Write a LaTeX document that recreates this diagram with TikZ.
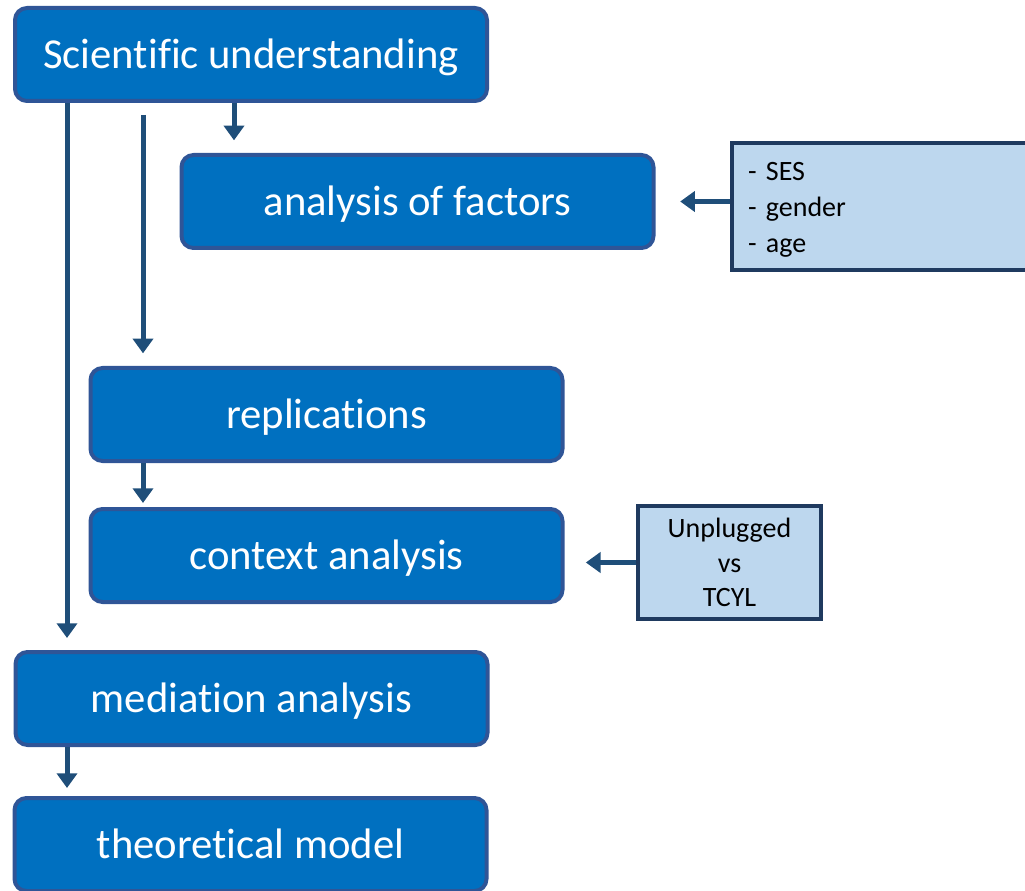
\documentclass[tikz,border=0pt]{standalone}
\usepackage{fontspec}
\setmainfont{Carlito}[Ligatures={NoCommon}]
\usetikzlibrary{arrows.meta}
\definecolor{stepfill}{HTML}{0070C0}
\definecolor{stepline}{HTML}{2F5597}
\definecolor{notefill}{HTML}{BDD7EE}
\definecolor{noteline}{HTML}{1F3A5F}
\definecolor{arrowcol}{HTML}{1F4E79}
\begin{document}
\begin{tikzpicture}[x=0.75pt,y=-0.75pt,
  stepbox/.style={draw=stepline, fill=stepfill, line width=3pt, rounded corners=9pt,
    text=white, inner sep=0pt, minimum width=354pt, minimum height=69.75pt,
    text height=26pt, text depth=5pt,
    font=\fontsize{32}{38}\selectfont},
  notebox/.style={draw=noteline, fill=notefill, line width=3pt, inner sep=0pt,
    text=black, font=\fontsize{21}{27}\selectfont},
  flow/.style={draw=arrowcol, line width=3.75pt, -{Triangle[width=15pt,length=11pt]}}]
\useasboundingbox (0,0) rectangle (1025,891);
\clip (0,0) rectangle (1025,891);

% main chain of steps
\node[stepbox] (sci)  at (251,54.5)   {Scientific understanding};
\node[stepbox] (fac)  at (417.5,201.5) {analysis of factors};
\node[stepbox] (rep)  at (326.5,414.5) {replications};
\node[stepbox] (ctx)  at (326.5,555.5) {context analysis};
\node[stepbox] (med)  at (251.5,698.5) {mediation analysis};
\node[stepbox] (theo) at (250.5,844.5) {theoretical model};

% side notes
\node[notebox, minimum width=225.75pt, minimum height=95.25pt, text width=201.75pt,
  align=left, inner xsep=12pt] (fac notes) at (882.5,206.5)
  {\rule{0pt}{19pt}- SES\\- gender\\- age};
\node[notebox, minimum width=137.25pt, minimum height=84.75pt, align=center,
  font=\fontsize{21}{26}\selectfont] (ctx notes) at (729.5,562.5) {Unplugged\\vs\\TCYL};

% vertical connectors
\coordinate (xa) at (67,0);
\coordinate (xb) at (143,0);
\coordinate (xc) at (234,0);
\draw[flow, shorten >=9pt] (sci.south -| xa) -- (med.north -| xa);
\draw[flow, shorten <=9pt, shorten >=9.5pt] (sci.south -| xb) -- (rep.north -| xb);
\draw[flow, shorten >=9.5pt] (sci.south -| xc) -- (fac.north -| xc);
\draw[flow, shorten >=3pt] (rep.south -| xb) -- (ctx.north -| xb);
\draw[flow, shorten >=6pt] (med.south -| xa) -- (theo.north -| xa);

% note connectors
\draw[flow, shorten >=18.5pt] (fac notes.west |- fac.east) -- (fac.east);
\draw[flow, shorten >=16pt] (ctx notes.west) -- (ctx.east |- ctx notes.west);
\end{tikzpicture}
\end{document}
